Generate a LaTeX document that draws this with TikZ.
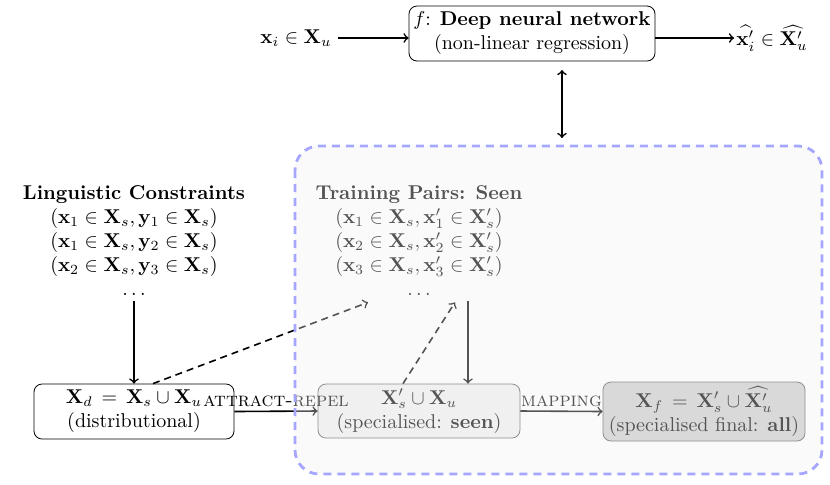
\documentclass[tikz,border=0pt]{standalone}
\usepackage{amsmath,amssymb}
\usetikzlibrary{calc}
\begin{document}
\begin{tikzpicture}[x=0.5pt,y=-0.5pt,
  box/.style={draw, rounded corners=4pt, align=center, inner sep=2pt},
  conn/.style={->, thick},
  dconn/.style={->, thick, dash pattern=on 3.5pt off 2.5pt},
  lbl/.style={font=\normalsize, inner sep=1pt}]
\useasboundingbox (0,0) rectangle (830,484);
% top row
\node[box, minimum width=123pt, minimum height=27.5pt] (dnn) at (532,33.5)
  {$f$: \textbf{Deep neural network}\\(non-linear regression)};
\node[inner sep=1pt] (xin) at (296,38) {$\mathbf{x}_i \in \mathbf{X}_u$};
\node[inner sep=1pt] (xout) at (772,38) {$\widehat{\mathbf{x}'_i} \in \widehat{\mathbf{X}'_u}$};
\draw[conn] (xin.east) ++(4,0) -- (xin.east -| dnn.west);
\draw[conn] (xin.east -| dnn.east) -- (xout.west);
\coordinate (dtop) at (562,70);
\coordinate (dbot) at (562,138);
\draw[<->, thick] (dtop) -- (dbot);
% constraint lists
\node[align=center, inner sep=0pt] (ling) at (134,241)
  {\textbf{Linguistic Constraints}\\
   $(\mathbf{x}_1 \in \mathbf{X}_s, \mathbf{y}_1 \in \mathbf{X}_s)$\\
   $(\mathbf{x}_1 \in \mathbf{X}_s, \mathbf{y}_2 \in \mathbf{X}_s)$\\
   $(\mathbf{x}_2 \in \mathbf{X}_s, \mathbf{y}_3 \in \mathbf{X}_s)$\\
   $\ldots$};
\node[align=center, inner sep=0pt] (train) at (419,241)
  {\textbf{Training Pairs: Seen}\\
   $(\mathbf{x}_1 \in \mathbf{X}_s, \mathbf{x}'_1 \in \mathbf{X}'_s)$\\
   $(\mathbf{x}_2 \in \mathbf{X}_s, \mathbf{x}'_2 \in \mathbf{X}'_s)$\\
   $(\mathbf{x}_3 \in \mathbf{X}_s, \mathbf{x}'_3 \in \mathbf{X}'_s)$\\
   $\ldots$};
% bottom row
\node[box, minimum width=100pt, minimum height=27.5pt] (xd) at (134,411.5)
  {$\mathbf{X}_d \,=\, \mathbf{X}_s \cup \mathbf{X}_u$\\(distributional)};
\node[box, draw=black!65, fill=gray!12, minimum width=101pt, minimum height=27pt] (seen) at (419,411)
  {$\mathbf{X}'_s \cup \mathbf{X}_u$\\(specialised: \textbf{seen})};
\node[box, draw=black!65, fill=gray!40, minimum width=101pt, minimum height=29.5pt] (fin) at (704,411.5)
  {$\mathbf{X}_f \,=\, \mathbf{X}'_s \cup \widehat{\mathbf{X}'_u}$\\(specialised final: \textbf{all})};
\draw[conn] (xd.east) -- (seen.west)
  node[lbl, midway, above=1pt] {\textsc{attract-repel}};
\draw[conn] (seen.east) -- (fin.west)
  node[lbl, midway, above=1pt] {\textsc{mapping}};
\draw[conn] (ling.south) ++(0,5) -- (xd.north);
\draw[conn] ($(train.south)+(49,5)$) -- ($(seen.north)+(49,0)$);
\draw[dconn] ($(xd.north)+(19,0)$) -- ($(train.south)+(-51,6)$);
\draw[dconn] ($(seen.north)+(-16,0)$) -- ($(train.south)+(36,6)$);
% overlay region
\draw[blue!35, dash pattern=on 4pt off 3pt, line width=1.4pt, rounded corners=12pt,
  fill=gray!10, fill opacity=0.35] (295,146) rectangle (822,474);
\end{tikzpicture}
\end{document}
